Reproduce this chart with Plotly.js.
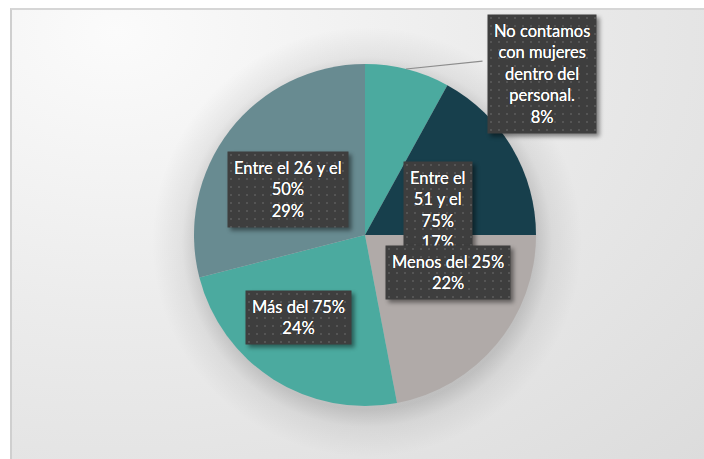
<!DOCTYPE html>
<html>
<head>
<meta charset="utf-8">
<script src="https://cdn.plot.ly/plotly-3.0.1.min.js"></script>
<style>
  html, body { margin: 0; padding: 0; background: #ffffff; width: 704px; height: 459px; overflow: hidden; }
  #frame {
    position: absolute; left: 10px; top: 8px; width: 694px; height: 451px;
    border-left: 2px solid #cfcfcf; border-top: 2px solid #d6d6d6; box-sizing: border-box;
    background:
      radial-gradient(circle at 355px 232px, rgba(0,0,0,0.16) 168px, rgba(0,0,0,0.06) 185px, rgba(0,0,0,0) 215px),
      radial-gradient(ellipse at 15% 5%, #fbfbfb 0%, #ececec 45%, #dcdcdc 100%);
  }
  #chart { position: absolute; left: 0; top: 0; width: 704px; height: 459px; }
  .annotation rect.bg { filter: drop-shadow(3px 3px 2px rgba(0,0,0,0.45)); fill: url(#dots) !important; }
  .annotation-text { text-shadow: 0 0 0.6px #ffffff, 0 0 1px rgba(0,0,0,0.6); }
</style>
</head>
<body>
<svg width="0" height="0" style="position:absolute">
  <defs>
    <pattern id="dots" patternUnits="userSpaceOnUse" width="8" height="8">
      <rect width="8" height="8" fill="#3e3e3e"></rect>
      <rect x="3" y="3" width="2" height="2" fill="#555555"></rect>
    </pattern>
  </defs>
</svg>
<div id="frame"></div>
<div id="chart"></div>
<script>
// Data
const categories = [
  "No contamos con mujeres dentro del personal.",
  "Entre el 51 y el 75%",
  "Menos del 25%",
  "Más del 75%",
  "Entre el 26 y el 50%"
];
const values = [8, 17, 22, 24, 29];
const labelText = [
  "No contamos<br>con mujeres<br>dentro del<br>personal.<br>8%",
  "Entre el<br>51 y el<br>75%<br>17%",
  "Menos del 25%<br>22%",
  "Más del 75%<br>24%",
  "Entre el 26 y el<br>50%<br>29%"
];
const colors = ["#4BAA9F", "#173F4C", "#B0AAA8", "#4BAA9F", "#688B91"];

const W = 704, H = 459;
const cx = 365, cy = 235, R = 171;

const trace = {
  type: "pie",
  labels: categories,
  values: values,
  sort: false,
  direction: "clockwise",
  rotation: 0,
  textinfo: "none",
  hoverinfo: "label+percent",
  marker: { colors: colors, line: { width: 0 } },
  domain: { x: [(cx - R) / W, (cx + R) / W], y: [(H - cy - R) / H, (H - cy + R) / H] },
  showlegend: false
};

// label box positions (pixel centers) – layout only
const boxPos = [
  [542, 74], [438, 210], [448, 272], [298, 317], [288, 189]
];
const drawOrder = [0, 4, 3, 1, 2];
const font = { family: "Lato, 'Open Sans', sans-serif", size: 16.5, color: "#ffffff" };
const annotations = drawOrder.map(i => ({
  xref: "paper", yref: "paper",
  x: boxPos[i][0] / W, y: 1 - boxPos[i][1] / H,
  xanchor: "center", yanchor: "middle",
  text: labelText[i],
  showarrow: false,
  font: font,
  bgcolor: "#424242",
  borderpad: 6,
  align: "center"
}));
// leader line for the small slice
annotations.unshift({
  xref: "paper", yref: "paper",
  x: 406 / W, y: 1 - 69 / H,
  ax: 484 / W, ay: 1 - 61 / H, axref: "paper", ayref: "paper",
  text: "", showarrow: true, arrowhead: 0, arrowwidth: 1.2, arrowcolor: "#8c8c8c"
});

const layout = {
  width: W, height: H,
  margin: { l: 0, r: 0, t: 0, b: 0 },
  paper_bgcolor: "rgba(0,0,0,0)",
  plot_bgcolor: "rgba(0,0,0,0)",
  annotations: annotations
};

Plotly.newPlot("chart", [trace], layout, { displayModeBar: false, staticPlot: true });
</script>
</body>
</html>
